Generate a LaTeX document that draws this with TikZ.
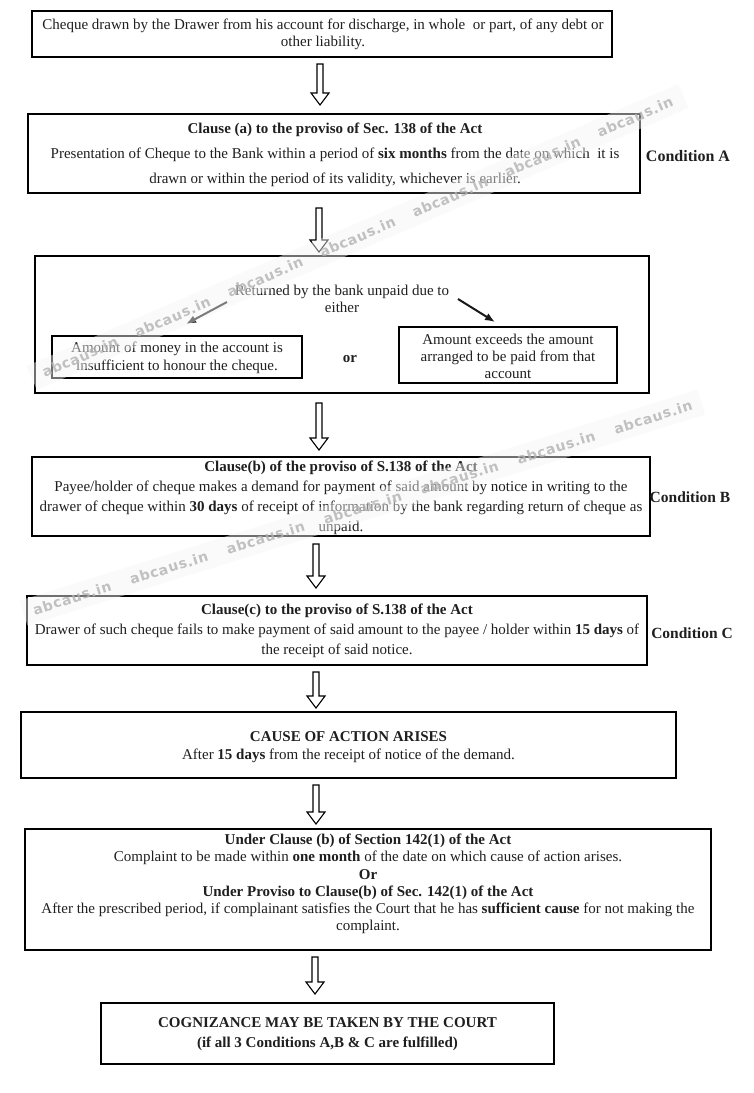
\documentclass[tikz,border=0pt]{standalone}
\usepackage{fontspec}
\setmainfont{Liberation Serif}
\newfontfamily\wmfont[LetterSpace=5]{DejaVu Sans}
\usetikzlibrary{calc,arrows.meta}
\begin{document}
\begin{tikzpicture}[x=1pt,y=-1pt,
  every node/.style={text=black!88},
  box/.style={draw=black, line width=2pt, inner sep=0pt, fill=none},
  txt/.style={align=center, inner sep=0pt, font=\fontsize{15}{17}\selectfont},
  cond/.style={inner sep=0pt, font=\fontsize{15.5}{17}\selectfont\bfseries},
  blockarrow/.style={draw=black, line width=1.1pt, fill=white, line join=miter,
    to path={let \p1=(\tikztostart), \p2=(\tikztotarget) in
      (\x1-3pt,\y1) -- (\x1-3pt,\y2+12pt) -- (\x1-9pt,\y2+12pt) -- (\x1,\y2)
      -- (\x1+9pt,\y2+12pt) -- (\x1+3pt,\y2+12pt) -- (\x1+3pt,\y1) -- cycle}},
  thinarrow/.style={draw=black!90, line width=2pt, -{Latex[length=10pt,width=8pt]}},
  wmband/.style={fill=black!4, fill opacity=0.45, draw=none, minimum height=26pt, inner sep=0pt},
  wmtext/.style={inner sep=0pt, text=black!30, text opacity=0.8, font=\wmfont\bfseries\fontsize{14}{16}\selectfont}
]
\fill[white] (0,0) rectangle (754,1093);
\useasboundingbox (0,0) rectangle (754,1093);

% boxes
\node[box, minimum width=580pt, minimum height=46pt] (b1) at (322,34) {};
\node[box, minimum width=612pt, minimum height=79pt] (b2) at (334,153.5) {};
\node[box, minimum width=614pt, minimum height=137pt] (b3) at (342,324.5) {};
\node[box, minimum width=250pt, minimum height=42pt] (b3l) at (177,357) {};
\node[box, minimum width=218pt, minimum height=56pt] (b3r) at (508,355) {};
\node[box, minimum width=618pt, minimum height=79pt] (b4) at (341,496.5) {};
\node[box, minimum width=620pt, minimum height=69pt] (b5) at (337,630.5) {};
\node[box, minimum width=655pt, minimum height=66pt] (b6) at (348.5,745) {};
\node[box, minimum width=686pt, minimum height=121pt] (b7) at (368,889.5) {};
\node[box, minimum width=453pt, minimum height=61pt] (b8) at (327.5,1033.5) {};

% texts
\node[txt] (t1) at (323,34.5) {Cheque drawn by the Drawer from his account for discharge, in whole\ \ or part, of any debt or\\other liability.};
\node[txt, font=\fontsize{15}{25}\selectfont] (t2) at (335,155) {\textbf{Clause (a) to the proviso of Sec. 138 of the Act}\\Presentation of Cheque to the Bank within a period of \textbf{six months} from the date on which\ \ it is\\drawn or within the period of its validity, whichever is earlier.};
\node[cond, font=\fontsize{16}{17}\selectfont\bfseries] (cA) at (688,156) {Condition A};
\node[txt] (t3) at (342,299) {Returned by the bank unpaid due to\\either};
\node[txt, font=\fontsize{15}{18}\selectfont] (t3l) at (177,358) {Amount of money in the account is\\insufficient to honour the cheque.};
\node[txt, font=\fontsize{15}{17}\selectfont\bfseries] (or) at (350,359) {or};
\node[txt] (t3r) at (508,356) {Amount exceeds the amount\\arranged to be paid from that\\account};
\node[txt, font=\fontsize{15}{20}\selectfont] (t4) at (341,497.5) {\textbf{Clause(b) of the proviso of S.138 of the Act}\\Payee/holder of cheque makes a demand for payment of said amount by notice in writing to the\\drawer of cheque within \textbf{30 days} of receipt of information by the bank regarding return of cheque as\\unpaid.};
\node[cond] (cB) at (690,497) {Condition B};
\node[txt, font=\fontsize{15}{20}\selectfont] (t5) at (337,631) {\textbf{Clause(c) to the proviso of S.138 of the Act}\\Drawer of such cheque fails to make payment of said amount to the payee / holder within \textbf{15 days} of\\the receipt of said notice.};
\node[cond] (cC) at (692,633) {Condition C};
\node[txt, font=\fontsize{15}{17.5}\selectfont] (t6) at (348.5,747) {\textbf{CAUSE OF ACTION ARISES}\\After \textbf{15 days} from the receipt of notice of the demand.};
\node[txt, font=\fontsize{15}{17.3}\selectfont] (t7) at (368,884) {\textbf{Under Clause (b) of Section 142(1) of the Act}\\Complaint to be made within \textbf{one month} of the date on which cause of action arises.\\\textbf{Or}\\\textbf{Under Proviso to Clause(b) of Sec. 142(1) of the Act}\\After the prescribed period, if complainant satisfies the Court that he has \textbf{sufficient cause} for not making the\\complaint.};
\node[txt, font=\fontsize{15}{20}\selectfont\bfseries] (t8) at (327.5,1034) {COGNIZANCE MAY BE TAKEN BY THE COURT\\(if all 3 Conditions A,B \& C are fulfilled)};

% block arrows
\coordinate (a1s) at (320,64);  \coordinate (a1e) at (320,105);
\coordinate (a2s) at (319,208); \coordinate (a2e) at (319,252);
\coordinate (a3s) at (319,403); \coordinate (a3e) at (319,450);
\coordinate (a4s) at (316,544); \coordinate (a4e) at (316,588);
\coordinate (a5s) at (316,672); \coordinate (a5e) at (316,708);
\coordinate (a6s) at (316,785); \coordinate (a6e) at (316,824);
\coordinate (a7s) at (315,957); \coordinate (a7e) at (315,994);
\foreach \i in {1,...,7} { \draw[blockarrow] (a\i s) to (a\i e); }

% thin arrows
\coordinate (l1s) at (227,302); \coordinate (l1e) at (186,324);
\coordinate (r1s) at (458,299); \coordinate (r1e) at (495,322);
\draw[thinarrow] (l1s) -- (l1e);
\draw[thinarrow] (r1s) -- (r1e);

% watermark bands
\coordinate (w1s) at (80,357);  \coordinate (w1e) at (635,117);
\coordinate (w2s) at (72,598);  \coordinate (w2e) at (653,417);
\node[wmband, rotate=23.4, minimum width=710pt] (wb1) at ($(w1s)!0.5!(w1e)$) {};
\node[wmband, rotate=17.3, minimum width=710pt] (wb2) at ($(w2s)!0.5!(w2e)$) {};
\foreach \i in {0,...,6} {
  \node[wmtext, rotate=23.4] (wa\i) at ($(w1s)!\i/6!(w1e)$) {abcaus.in};
  \node[wmtext, rotate=17.3] (wc\i) at ($(w2s)!\i/6!(w2e)$) {abcaus.in};
}
\end{tikzpicture}
\end{document}
